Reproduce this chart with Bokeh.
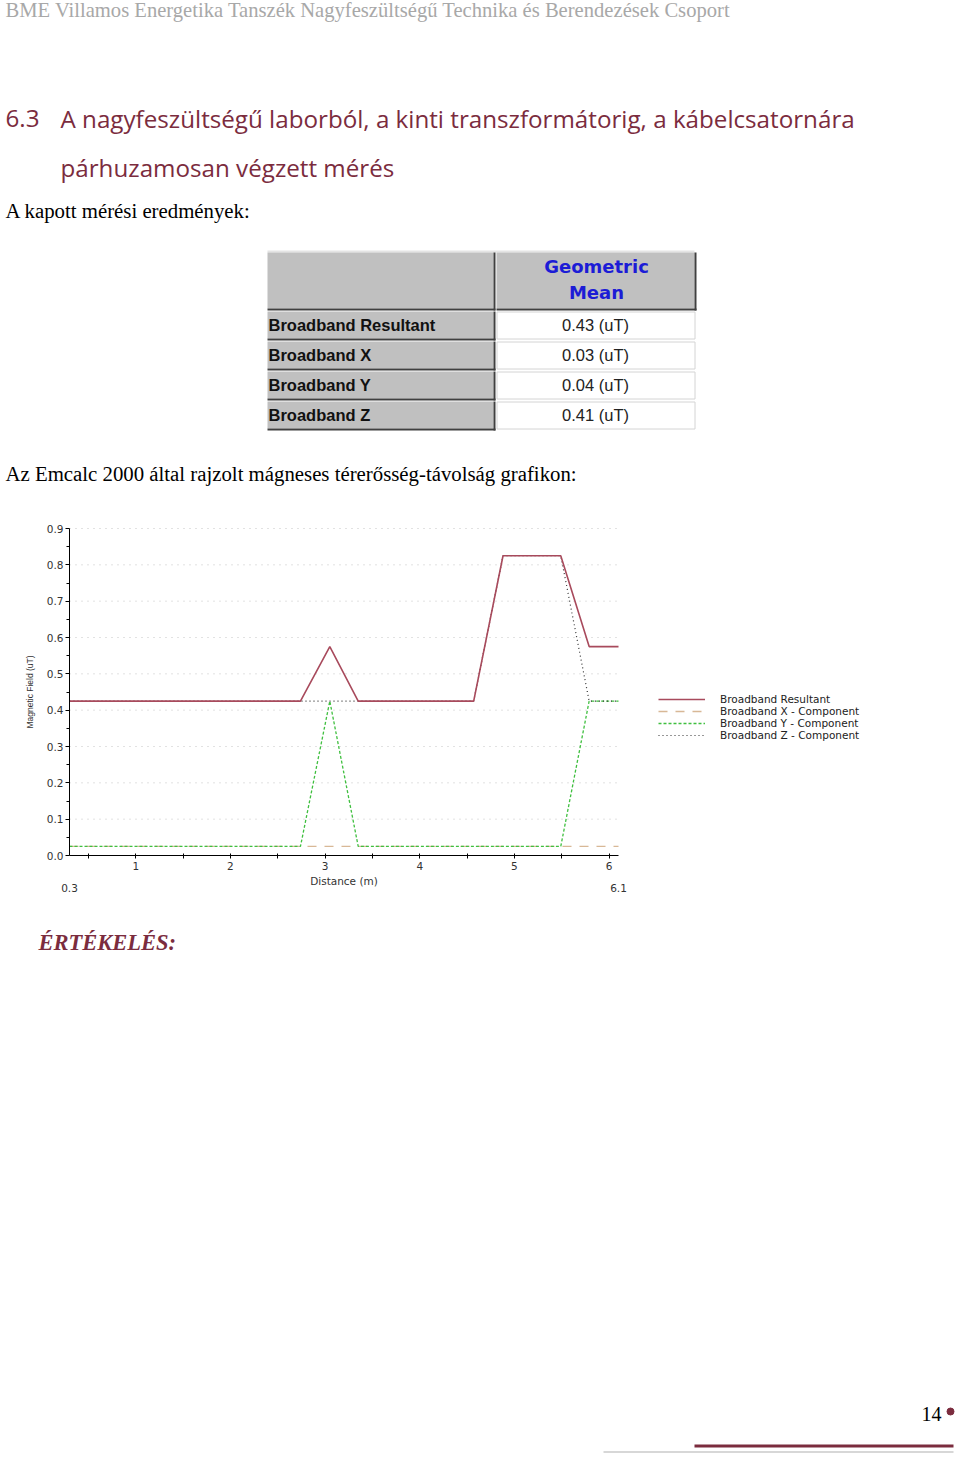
from bokeh.plotting import figure
from bokeh.models import (Legend, LegendItem, FixedTicker, PrintfTickFormatter,
                          Range1d, LinearAxis)
from bokeh.core.properties import value
from bokeh.embed import file_html
from bokeh.resources import INLINE

# ---------------- data ----------------
distance = [0.30, 0.61, 0.91, 1.22, 1.52, 1.83, 2.13, 2.44, 2.74, 3.05,
            3.35, 3.66, 3.96, 4.27, 4.57, 4.88, 5.18, 5.49, 5.79, 6.10]
resultant = [0.425, 0.425, 0.425, 0.425, 0.425, 0.425, 0.425, 0.425, 0.425, 0.575,
             0.425, 0.425, 0.425, 0.425, 0.425, 0.825, 0.825, 0.825, 0.575, 0.575]
x_comp = [0.025, 0.025, 0.025, 0.025, 0.025, 0.025, 0.025, 0.025, 0.025, 0.025,
          0.025, 0.025, 0.025, 0.025, 0.025, 0.025, 0.025, 0.025, 0.025, 0.025]
y_comp = [0.025, 0.025, 0.025, 0.025, 0.025, 0.025, 0.025, 0.025, 0.025, 0.425,
          0.025, 0.025, 0.025, 0.025, 0.025, 0.025, 0.025, 0.025, 0.425, 0.425]
z_comp = [0.425, 0.425, 0.425, 0.425, 0.425, 0.425, 0.425, 0.425, 0.425, 0.425,
          0.425, 0.425, 0.425, 0.425, 0.425, 0.825, 0.825, 0.825, 0.425, 0.425]
series_names = ["Broadband Resultant", "Broadband X - Component",
                "Broadband Y - Component", "Broadband Z - Component"]
x_ticks = [1, 2, 3, 4, 5, 6]
x_minor = [0.5, 1.5, 2.5, 3.5, 4.5, 5.5]
x_range_labels = [0.3, 6.1]
y_ticks = [0.0, 0.1, 0.2, 0.3, 0.4, 0.5, 0.6, 0.7, 0.8, 0.9]
y_minor = [0.05, 0.15, 0.25, 0.35, 0.45, 0.55, 0.65, 0.75, 0.85]
x_lim = (0.3, 6.1)
y_lim = (0.0, 0.9)

table_rows = ["Broadband Resultant", "Broadband X", "Broadband Y", "Broadband Z"]
table_means = [0.43, 0.03, 0.04, 0.41]
table_header = ["Geometric", "Mean"]

header_text = "BME Villamos Energetika Tanszék Nagyfeszültségű Technika és Berendezések Csoport"
title_num = "6.3"
title_line1 = "A nagyfeszültségű laborból, a kinti transzformátorig, a kábelcsatornára"
title_line2 = "párhuzamosan végzett mérés"
intro_text = "A kapott mérési eredmények:"
caption_text = "Az Emcalc 2000 által rajzolt mágneses térerősség-távolság grafikon:"
eval_text = "ÉRTÉKELÉS:"
page_number = "14"

# ---------------- page geometry (pixels) ----------------
W, H = 960, 1461
CH_L, CH_R = 69, 618      # chart frame left/right on the page
CH_T, CH_B = 528, 855     # chart frame top/bottom on the page
kx = (x_lim[1] - x_lim[0]) / (CH_R - CH_L)
ky = (y_lim[1] - y_lim[0]) / (CH_B - CH_T)
xr = Range1d(x_lim[0] - CH_L * kx, x_lim[0] + (W - CH_L) * kx)
yr = Range1d(y_lim[0] - (H - CH_B) * ky, y_lim[0] + CH_B * ky)

p = figure(width=W, height=H, output_backend="svg", toolbar_location=None,
           x_range=xr, y_range=yr, min_border=0, min_border_left=0,
           min_border_right=0, min_border_top=0, min_border_bottom=0)
p.outline_line_color = None
p.background_fill_color = "white"
p.border_fill_color = "white"
p.extra_x_ranges = {"px": Range1d(0, W)}
p.extra_y_ranges = {"py": Range1d(H, 0)}

SERIF = "Liberation Serif"
SANS = "Liberation Sans"
MAROON = "#7b2c3e"


def txt(s, x, y, size, font, color, style="normal", align="left", baseline="middle"):
    p.text(x=[x], y=[y], text=[s], text_font=value(font), text_font_size=value(f"{size}px"),
           text_color=color, text_font_style=style, text_align=align,
           text_baseline=baseline, x_range_name="px", y_range_name="py")


def box(l, t, r, b, fill, line=None):
    p.quad(left=[l], right=[r], top=[t], bottom=[b], fill_color=fill,
           line_color=line, line_width=1, x_range_name="px", y_range_name="py")


# ---------------- page texts ----------------
txt(header_text, 5, 9.5, 20.6, SERIF, "#a8a8a8")
txt(title_num, 5, 118, 24.2, "Open Sans", MAROON)
txt(title_line1, 60, 118, 24.2, "Open Sans", MAROON)
txt(title_line2, 60, 167, 24.2, "Open Sans", MAROON)
txt(intro_text, 5, 210, 20.8, SERIF, "black")
txt(caption_text, 5, 473, 20.8, SERIF, "black")

# table
box(267, 250, 694, 252, "#e4e4e4")
box(267, 252, 493, 308, "#c0c0c0")
box(496, 252, 694, 308, "#c0c0c0")
box(493, 252, 495, 310, "#404040")
box(694, 252, 696, 310, "#404040")
box(267, 308, 495, 310, "#404040")
box(496, 308, 696, 310, "#404040")
txt(table_header[0], 596, 266, 18, "DejaVu Sans", "#1c1cd6", style="bold", align="center")
txt(table_header[1], 596, 292, 18, "DejaVu Sans", "#1c1cd6", style="bold", align="center")
for i, (name, val) in enumerate(zip(table_rows, table_means)):
    t = 311 + 30 * i
    b = 338 + 30 * i
    box(267, t, 493, b, "#c0c0c0")
    box(493, t, 495, b + 2, "#404040")
    box(267, b, 495, b + 2, "#404040")
    box(496.5, t + 0.5, 694.5, b + 0.5, "white", line="#d4d4d4")
    txt(name, 268, (t + b) / 2, 16.5, SANS, "#111111", style="bold")
    txt(f"{val:.2f} (uT)", 595, (t + b) / 2, 16.5, SANS, "#222222", align="center")

# footer
txt(eval_text, 38, 942, 22.5, SERIF, MAROON, style="bold italic")
txt(page_number, 921, 1413, 20, SERIF, "black")
p.scatter(x=[950], y=[1411], size=7, color=MAROON, x_range_name="px", y_range_name="py")
box(694, 1444, 953, 1447, MAROON)
box(603, 1451, 953, 1452, "#b0b0b0")

# ---------------- chart ----------------
p.xgrid.visible = False
p.ygrid.visible = False
grid_y = y_ticks[1:]
p.segment(x0=[x_lim[0]] * len(grid_y), x1=[x_lim[1]] * len(grid_y), y0=grid_y, y1=grid_y,
          line_color="#c4c4c4", line_width=1, line_dash="1 5", level="underlay")

p.xaxis.ticker = FixedTicker(ticks=x_ticks, minor_ticks=x_minor)
p.yaxis.ticker = FixedTicker(ticks=y_ticks, minor_ticks=y_minor)
p.yaxis.formatter = PrintfTickFormatter(format="%.1f")
p.xaxis.fixed_location = y_lim[0]
p.yaxis.fixed_location = x_lim[0]
p.xaxis.bounds = x_lim
p.yaxis.bounds = y_lim
for ax in (p.xaxis, p.yaxis):
    ax.axis_line_color = "black"
    ax.major_tick_line_color = "black"
    ax.minor_tick_line_color = "black"
    ax.major_label_text_font = "DejaVu Sans"
    ax.major_label_text_font_size = "10.5px"
    ax.major_label_text_color = "#333333"
    ax.axis_label_text_font = "DejaVu Sans"
    ax.axis_label_text_font_style = "normal"
    ax.axis_label_text_color = "#333333"
p.xaxis.major_tick_in = 2
p.xaxis.major_tick_out = 3
p.xaxis.minor_tick_in = 2
p.xaxis.minor_tick_out = 3
p.xaxis.major_label_standoff = 3
p.xaxis.axis_label = "Distance (m)"
p.xaxis.axis_label_text_font_size = "10.5px"
p.xaxis.axis_label_standoff = 2
p.yaxis.major_tick_in = 0
p.yaxis.major_tick_out = 4
p.yaxis.minor_tick_in = 0
p.yaxis.minor_tick_out = 3
p.yaxis.major_label_standoff = 2
p.yaxis.axis_label = "Magnetic Field (uT)"
p.yaxis.axis_label_text_font = SANS
p.yaxis.axis_label_text_font_size = "8.5px"
p.yaxis.axis_label_standoff = 9

# second axis below: the range end values 0.3 and 6.1
end_axis = LinearAxis(ticker=FixedTicker(ticks=x_range_labels), fixed_location=y_lim[0],
                      bounds=x_lim, axis_line_color=None, major_tick_line_color=None,
                      minor_tick_line_color=None, major_tick_out=0, major_tick_in=0,
                      major_label_standoff=28,
                      major_label_text_font="DejaVu Sans",
                      major_label_text_font_size="10.5px",
                      major_label_text_color="#333333")
p.add_layout(end_axis, "below")

rx = p.line(distance, x_comp, line_color="#d8b896", line_width=1.3, line_dash="9 8")
ry = p.line(distance, y_comp, line_color="#3fbf3f", line_width=1.3, line_dash="3 2")
rz = p.line(distance, z_comp, line_color="#333333", line_width=1.2, line_dash="1 3")
rr = p.line(distance, resultant, line_color="#a84a5c", line_width=1.6)

legend = Legend(items=[LegendItem(label=series_names[0], renderers=[rr]),
                       LegendItem(label=series_names[1], renderers=[rx]),
                       LegendItem(label=series_names[2], renderers=[ry]),
                       LegendItem(label=series_names[3], renderers=[rz])],
                location=(658, H - 741), glyph_width=47, glyph_height=10,
                label_height=10, label_standoff=15, spacing=0, padding=0,
                margin=0, border_line_alpha=0, background_fill_alpha=0,
                label_text_font="DejaVu Sans", label_text_font_size="10.5px",
                label_text_color="#222222")
p.add_layout(legend)

open("out.html", "w").write(file_html(p, INLINE))
